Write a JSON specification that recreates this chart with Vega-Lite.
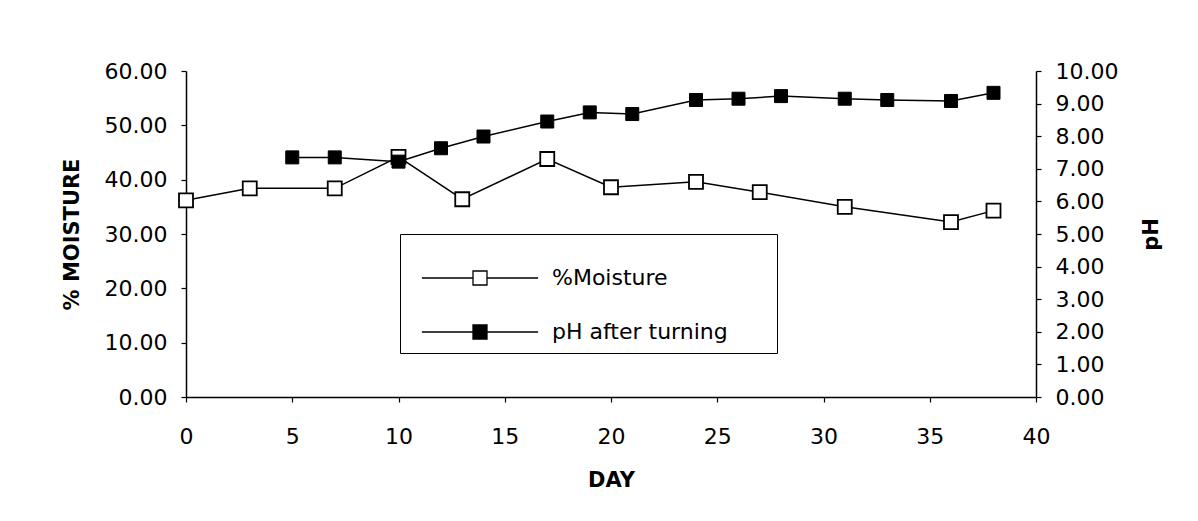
{
  "$schema": "https://vega.github.io/schema/vega-lite/v6.json",
  "autosize": {"type": "none"},
  "padding": {"left": 186, "top": 71, "right": 162, "bottom": 124},
  "width": 850,
  "height": 326,
  "background": "white",
  "config": {
    "view": {"stroke": null},
    "font": "DejaVu Sans",
    "axis": {
      "grid": false,
      "domainColor": "black",
      "domainWidth": 1.5,
      "tickColor": "black",
      "tickWidth": 1.2,
      "tickSize": 5,
      "labelColor": "black",
      "labelFont": "DejaVu Sans",
      "labelFontSize": 22,
      "titleColor": "black",
      "titleFont": "DejaVu Sans",
      "titleFontSize": 21,
      "titleFontWeight": "bold"
    },
    "legend": {
      "labelFont": "DejaVu Sans",
      "labelFontSize": 22,
      "labelColor": "black"
    }
  },
  "datasets": {
    "moisture": [
      {"day": 0, "value": 36.2},
      {"day": 3, "value": 38.4},
      {"day": 7, "value": 38.4},
      {"day": 10, "value": 44.2},
      {"day": 13, "value": 36.4},
      {"day": 17, "value": 43.8},
      {"day": 20, "value": 38.6},
      {"day": 24, "value": 39.6},
      {"day": 27, "value": 37.7},
      {"day": 31, "value": 35.0},
      {"day": 36, "value": 32.2},
      {"day": 38, "value": 34.3}
    ],
    "ph": [
      {"day": 5, "value": 7.35},
      {"day": 7, "value": 7.35},
      {"day": 10, "value": 7.22},
      {"day": 12, "value": 7.63},
      {"day": 14, "value": 7.99},
      {"day": 17, "value": 8.45},
      {"day": 19, "value": 8.73},
      {"day": 21, "value": 8.68},
      {"day": 24, "value": 9.11},
      {"day": 26, "value": 9.15},
      {"day": 28, "value": 9.23},
      {"day": 31, "value": 9.15},
      {"day": 33, "value": 9.11},
      {"day": 36, "value": 9.08},
      {"day": 38, "value": 9.33}
    ]
  },
  "encoding": {
    "x": {
      "field": "day",
      "type": "quantitative",
      "scale": {"domain": [0, 40], "nice": false, "zero": false},
      "axis": {
        "title": "DAY",
        "values": [0, 5, 10, 15, 20, 25, 30, 35, 40],
        "format": "d",
        "labelPadding": 24,
        "titlePadding": 22,
        "labelFlush": false
      }
    }
  },
  "layer": [
    {
      "data": {"name": "moisture"},
      "encoding": {
        "y": {
          "field": "value",
          "type": "quantitative",
          "scale": {"domain": [0, 60], "nice": false},
          "axis": {
            "orient": "left",
            "title": "% MOISTURE",
            "values": [0, 10, 20, 30, 40, 50, 60],
            "format": ".2f",
            "labelPadding": 14,
            "titlePadding": 22
          }
        }
      },
      "layer": [
        {"mark": {"type": "line", "color": "black", "strokeWidth": 1.5}},
        {
          "mark": {"type": "point", "shape": "square", "size": 196, "filled": true, "stroke": "black", "strokeWidth": 1.8, "opacity": 1},
          "encoding": {
            "fill": {
              "datum": "%Moisture",
              "type": "nominal",
              "scale": {"domain": ["%Moisture", "pH after turning"], "range": ["white", "black"]},
              "legend": {
                "title": "___________________________________________________",
                "titleColor": "white",
                "titleFontSize": 14,
                "titleFontWeight": "normal",
                "titleLimit": 0,
                "titlePadding": 9,
                "orient": "none",
                "legendX": 214,
                "legendY": 163,
                "strokeColor": "black",
                "padding": 10,
                "symbolType": "M-8.3,0H-1M1,0H8.3M-1,-1H1V1H-1Z",
                "symbolSize": 196,
                "symbolStrokeColor": "black",
                "symbolStrokeWidth": 1.3,
                "symbolOffset": 59,
                "labelOffset": 61,
                "labelLimit": 0,
                "rowPadding": 32
              }
            }
          }
        }
      ]
    },
    {
      "data": {"name": "ph"},
      "encoding": {
        "y": {
          "field": "value",
          "type": "quantitative",
          "scale": {"domain": [0, 10], "nice": false},
          "axis": {
            "orient": "right",
            "title": "pH",
            "titleAngle": -90,
            "values": [0, 1, 2, 3, 4, 5, 6, 7, 8, 9, 10],
            "format": ".2f",
            "labelPadding": 14,
            "titlePadding": 44
          }
        }
      },
      "layer": [
        {"mark": {"type": "line", "color": "black", "strokeWidth": 1.5}},
        {
          "mark": {"type": "point", "shape": "square", "size": 169, "filled": true, "stroke": "black", "strokeWidth": 1, "opacity": 1},
          "encoding": {
            "fill": {"datum": "pH after turning", "type": "nominal"}
          }
        }
      ]
    }
  ],
  "resolve": {"scale": {"y": "independent"}}
}
